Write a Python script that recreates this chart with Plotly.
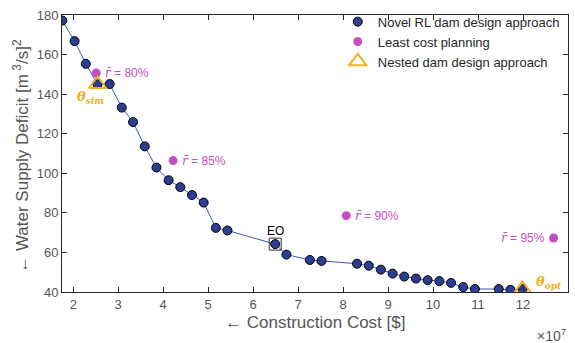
import plotly.graph_objects as go

# Pareto front of the RL dam design approach (cost in 10^7 $, deficit in (m^3/s)^2)
cost_rl = [1.756, 2.03, 2.28, 2.54, 2.81, 3.08, 3.33, 3.59, 3.85, 4.12, 4.38,
           4.64, 4.90, 5.17, 5.43, 6.49, 6.74, 7.26, 7.52, 8.31, 8.57, 8.84,
           9.10, 9.36, 9.62, 9.88, 10.14, 10.40, 10.67, 10.93, 11.46, 11.72, 11.99]
deficit_rl = [177.2, 166.8, 155.3, 145.0, 145.1, 133.2, 125.9, 113.6, 102.9, 96.5, 93.0,
              89.0, 85.2, 72.4, 71.1, 64.2, 58.9, 56.2, 55.7, 54.3, 53.3, 51.3,
              49.3, 47.8, 46.8, 46.0, 45.5, 44.6, 42.5, 41.5, 41.5, 41.1, 41.5]

# Least cost planning solutions for several reliability targets
cost_lc = [2.51, 4.22, 8.07, 12.68]
deficit_lc = [150.7, 106.4, 78.6, 67.3]
reliability_lc = ["80%", "85%", "90%", "95%"]

# Nested dam design approach
cost_nested = [2.54, 11.99]
deficit_nested = [145.0, 41.5]
nested_names = ["sim", "opt"]

# Equilibrium outcome
eo_cost = 6.49
eo_deficit = 64.2

x_ticks = list(range(2, 14))
y_ticks = list(range(40, 181, 20))

BLUE_FILL = "#2c3d92"
BLUE_LINE = "#3b58ba"
PINK = "#c64fc0"
ORANGE = "#EDB120"
AXIS = "#262626"
LABEL = "#555555"
FONT = "Liberation Sans, Arial, Helvetica, sans-serif"
SERIF = "DejaVu Serif, serif"

fig = go.Figure()

# connecting line of the front (kept out of the legend so the key shows a dot only)
fig.add_trace(go.Scatter(
    x=cost_rl, y=deficit_rl, mode="lines", showlegend=False, hoverinfo="skip",
    line=dict(color=BLUE_LINE, width=1),
))

fig.add_trace(go.Scatter(
    x=cost_rl, y=deficit_rl, mode="markers",
    name="Novel RL dam design approach",
    marker=dict(size=9, color=BLUE_FILL, line=dict(color="black", width=1)),
))

fig.add_trace(go.Scatter(
    x=cost_lc, y=deficit_lc, mode="markers",
    name="Least cost planning",
    marker=dict(size=9, color=PINK),
))

fig.add_trace(go.Scatter(
    x=cost_nested, y=deficit_nested, mode="markers",
    name="Nested dam design approach",
    marker=dict(size=15, symbol="triangle-up-open", color=ORANGE,
                line=dict(color=ORANGE, width=2)),
))

fig.add_trace(go.Scatter(
    x=[eo_cost], y=[eo_deficit], mode="markers", showlegend=False,
    marker=dict(size=12, symbol="square-open", color="#333333",
                line=dict(color="#333333", width=1)),
))

annotations = []
for c, d, r in zip(cost_lc, deficit_lc, reliability_lc):
    right_side = c > 12
    annotations.append(dict(
        x=c, y=d, xref="x", yref="y",
        text=f"<span style='font-family:{SERIF}'><i>r\u0304</i></span> = {r}",
        showarrow=False,
        xanchor="right" if right_side else "left",
        xshift=-7 if right_side else 7,
        font=dict(size=12, color=PINK, family=FONT),
    ))

# theta labels next to the nested-approach triangles
annotations.append(dict(
    x=cost_nested[0], y=deficit_nested[0], xref="x", yref="y",
    text=f"<b><i>θ<sub>{nested_names[0]}</sub></i></b>", showarrow=False,
    xanchor="center", xshift=-7, yshift=-13,
    font=dict(size=13, color=ORANGE, family=SERIF),
))
annotations.append(dict(
    x=cost_nested[1], y=deficit_nested[1], xref="x", yref="y",
    text=f"<b><i>θ<sub>{nested_names[1]}</sub></i></b>", showarrow=False,
    xanchor="left", xshift=11, yshift=7,
    font=dict(size=13, color=ORANGE, family=SERIF),
))

annotations.append(dict(
    x=eo_cost, y=eo_deficit, xref="x", yref="y", text="EO",
    showarrow=False, yshift=13, font=dict(size=12, color="black", family=FONT),
))

# axis titles and the exponent marker
annotations.append(dict(
    x=0.5, y=-0.11, xref="paper", yref="paper",
    text="\u2190 Construction Cost [$]", showarrow=False,
    xanchor="center", yanchor="middle",
    font=dict(size=17, color=LABEL, family=FONT),
))
annotations.append(dict(
    x=-0.08, y=0.49, xref="paper", yref="paper",
    text="\u2190 Water Supply Deficit [m\u2009<sup>3</sup>/s]<sup>2</sup>", showarrow=False,
    textangle=-90, xanchor="center", yanchor="middle",
    font=dict(size=17, color=LABEL, family=FONT),
))
annotations.append(dict(
    x=1.0, y=-0.115, xref="paper", yref="paper",
    text="×10<sup>7</sup>", showarrow=False,
    xanchor="right", yanchor="top",
    font=dict(size=14, color=LABEL, family=FONT),
))

axis_common = dict(
    showgrid=False, zeroline=False, showline=True, linecolor=AXIS, linewidth=1,
    mirror="ticks", ticks="inside", ticklen=5, tickwidth=1, tickcolor=AXIS,
    tickfont=dict(size=13, color=LABEL, family=FONT),
)

fig.update_layout(
    width=575, height=343,
    margin=dict(l=62, r=7, t=10, b=51),
    plot_bgcolor="white", paper_bgcolor="white",
    font=dict(family=FONT),
    xaxis=dict(range=[1.75, 13], tickvals=x_ticks, **axis_common),
    yaxis=dict(range=[40, 180], tickvals=y_ticks, **axis_common),
    legend=dict(x=0.545, y=1.03, xanchor="left", yanchor="top",
                bgcolor="rgba(0,0,0,0)", font=dict(size=13, color=AXIS, family=FONT),
                tracegroupgap=0, itemwidth=30),
    annotations=annotations,
    showlegend=True,
)

fig.write_html("out.html")
